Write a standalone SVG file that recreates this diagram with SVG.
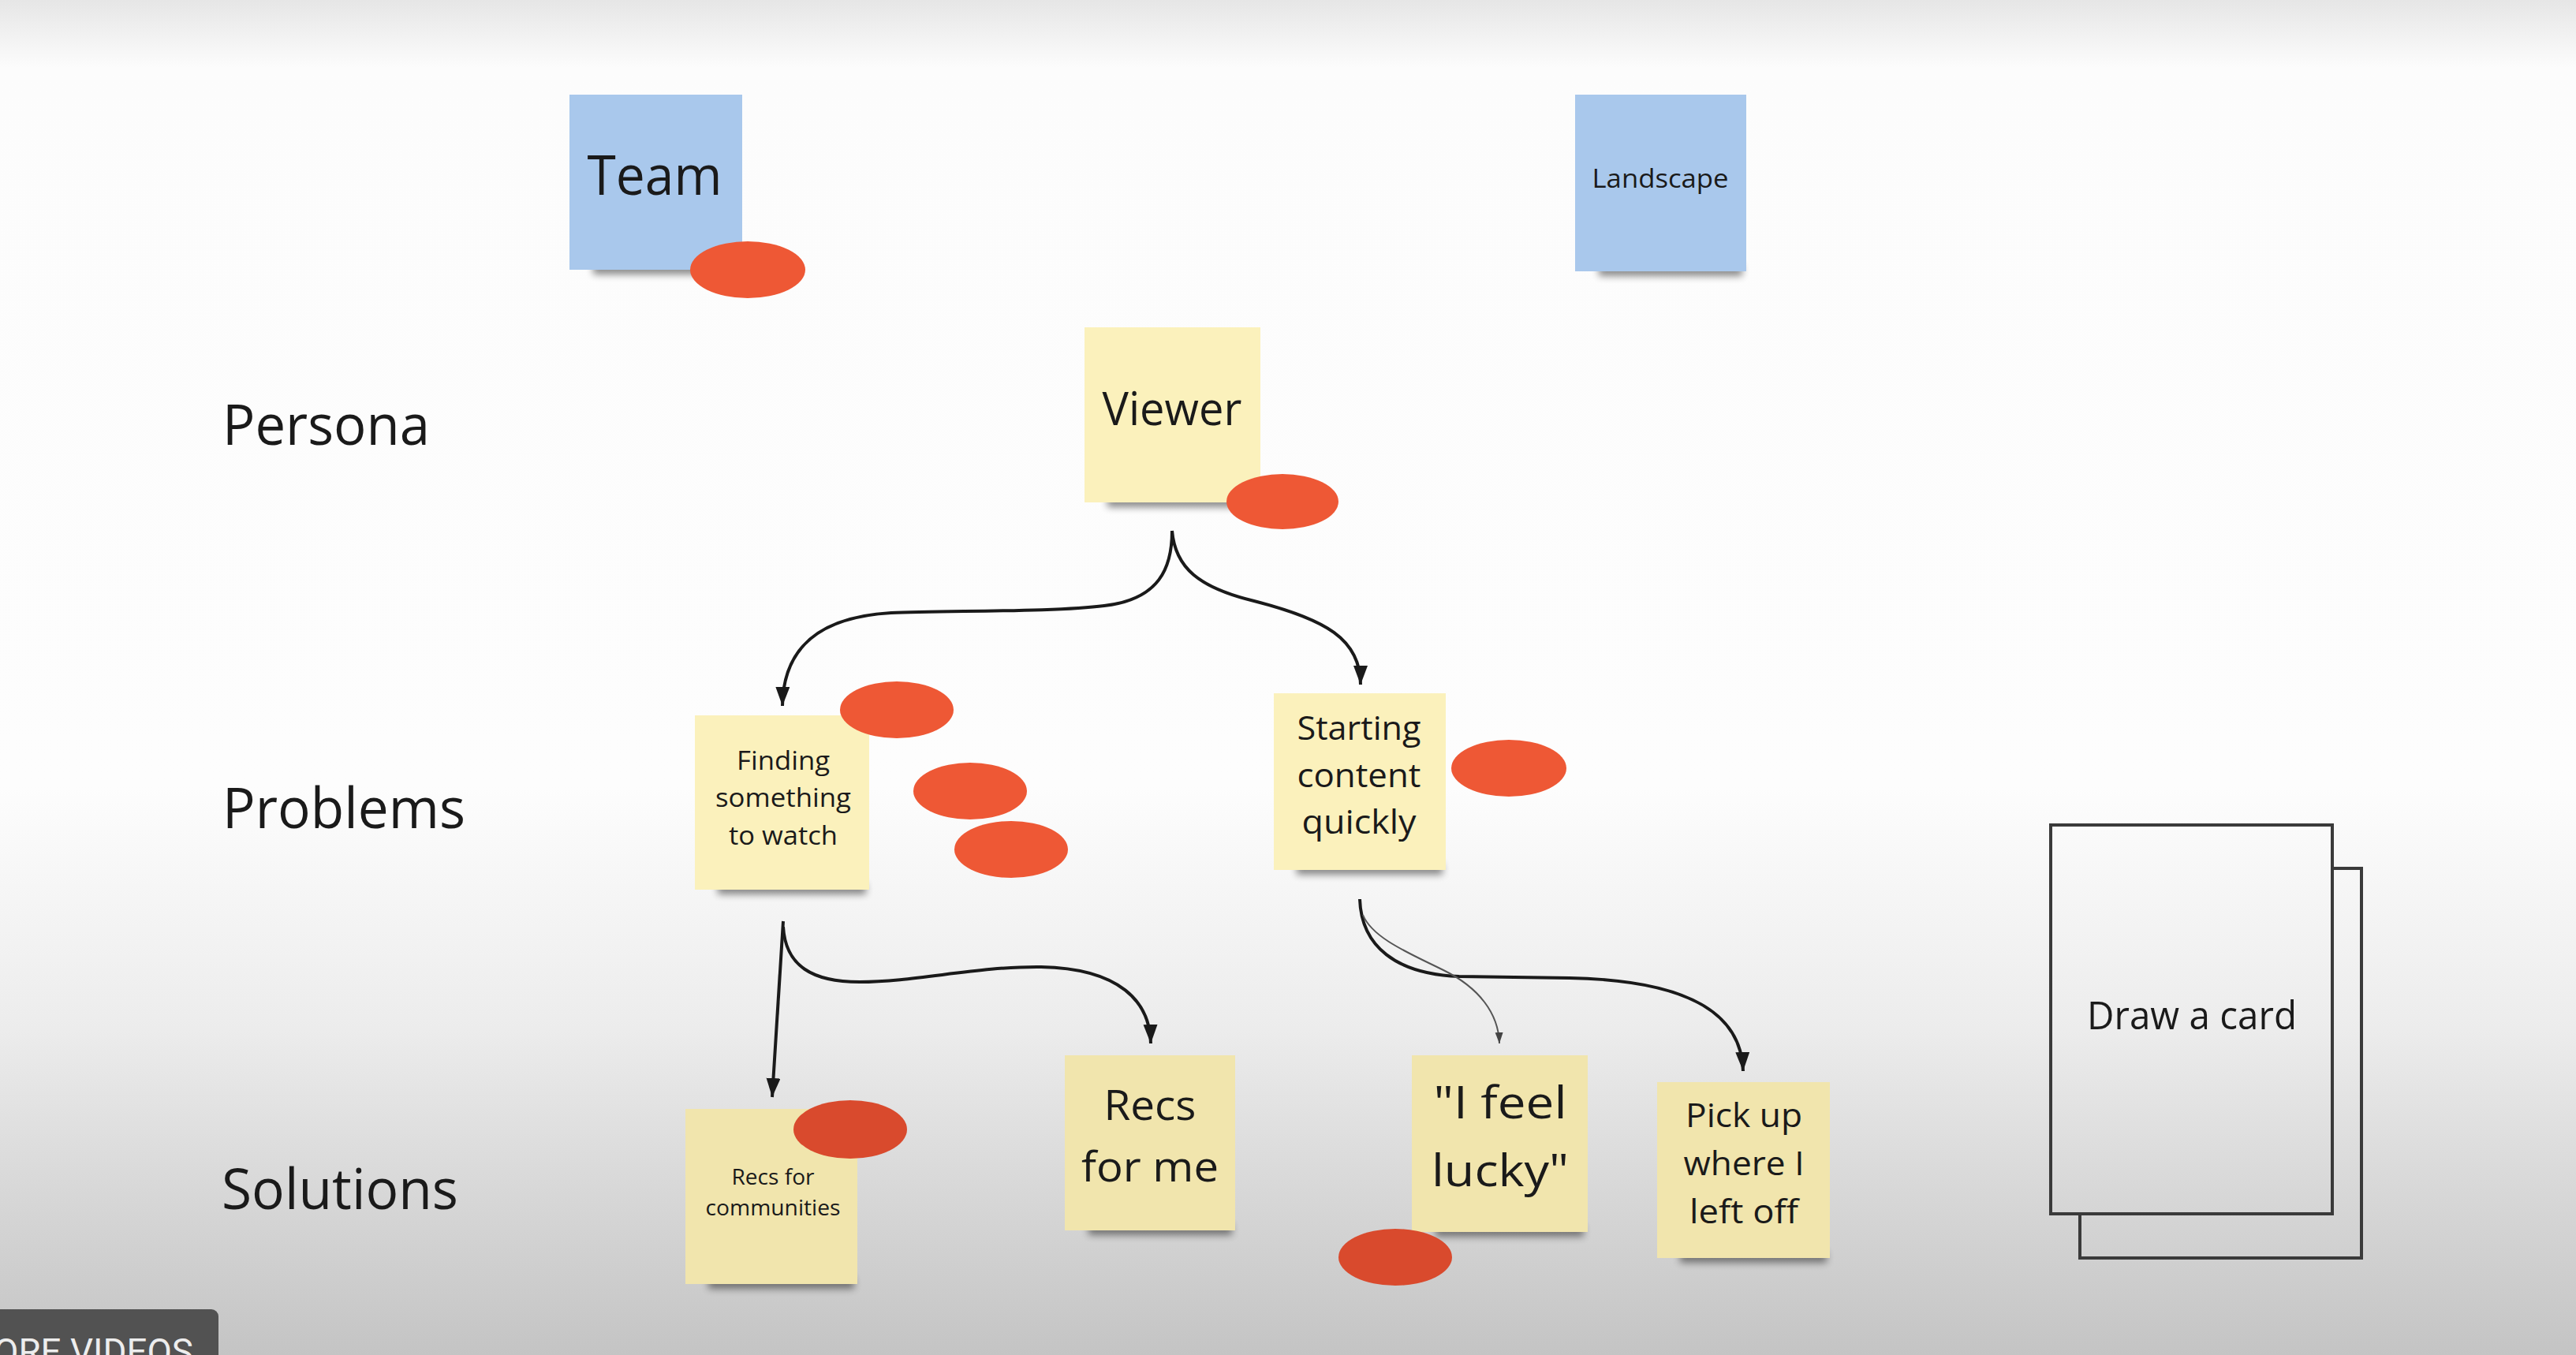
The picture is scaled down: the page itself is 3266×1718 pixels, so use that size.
<svg xmlns="http://www.w3.org/2000/svg" width="3266" height="1718" viewBox="0 0 3266 1718">
<defs>
<linearGradient id="bg" gradientUnits="userSpaceOnUse" x1="0" y1="0" x2="0" y2="1718">
<stop offset="0" stop-color="#e6e6e6"/>
<stop offset="0.05" stop-color="#fcfcfc"/>
<stop offset="0.58" stop-color="#fdfdfd"/>
<stop offset="0.76" stop-color="#ececec"/>
<stop offset="0.87" stop-color="#d9d9d9"/>
<stop offset="1" stop-color="#c4c4c4"/>
</linearGradient>
<filter id="blur" x="-20%" y="-100%" width="140%" height="300%">
<feGaussianBlur stdDeviation="5"/>
</filter>
<marker id="arrow" markerUnits="userSpaceOnUse" markerWidth="26" markerHeight="20" refX="24" refY="9" orient="auto">
<path d="M0,0 L24,9 L0,18 Z" fill="#1a1a1a"/>
</marker>
<marker id="arrowThin" markerUnits="userSpaceOnUse" markerWidth="16" markerHeight="12" refX="14" refY="5" orient="auto">
<path d="M0,0 L14,5 L0,10 Z" fill="#444"/>
</marker>
<style>
.txt{font-family:"Open Sans","Noto Sans","Liberation Sans",sans-serif;fill:#1a1a1a;}
.mid{text-anchor:middle;}
.blue{fill:#a9c8ec;}
.yel{fill:#fbf1bc;}
.yel2{fill:#f1e5ad;}
.shadow{fill:#000;opacity:0.45;filter:url(#blur);}
.dot{fill:#ee5835;}
.dot2{fill:#d94a2d;}
.conn{fill:none;stroke:#1a1a1a;stroke-width:4;marker-end:url(#arrow);}
.connThin{fill:none;stroke:#555;stroke-width:2;marker-end:url(#arrowThin);}
.card{fill:url(#bg);stroke:#3a3a3a;stroke-width:4;}
.lane{font-size:71px;}
</style>
</defs>

<g id="background">
<rect x="0" y="0" width="3266" height="1718" fill="url(#bg)"/>
</g>

<g id="connectors">
<path class="conn" d="M1486,673 C1486,720 1470,760 1400,768 C1340,776 1200,774 1130,777 C1040,782 993,820 992,895"/>
<path class="conn" d="M1486,673 C1490,720 1520,745 1590,762 C1680,785 1725,810 1725,868"/>
<path class="conn" d="M993,1168 L979,1391"/>
<path class="conn" d="M993,1175 C996,1225 1030,1245 1090,1245 C1160,1245 1240,1225 1320,1226 C1420,1228 1458,1270 1459,1323"/>
<path class="conn" d="M1724,1140 C1726,1200 1770,1235 1850,1238 L1990,1240 C2150,1243 2208,1290 2210,1358"/>
<path class="connThin" d="M1728,1160 C1740,1190 1790,1210 1830,1230 C1875,1252 1900,1285 1901,1323"/>
</g>

<g id="lane-persona"><text class="txt lane" x="282" y="564" textLength="263" lengthAdjust="spacingAndGlyphs">Persona</text></g>
<g id="lane-problems"><text class="txt lane" x="282" y="1050" textLength="308" lengthAdjust="spacingAndGlyphs">Problems</text></g>
<g id="lane-solutions"><text class="txt lane" x="281" y="1533" textLength="300" lengthAdjust="spacingAndGlyphs">Solutions</text></g>

<g id="team">
<rect class="shadow" x="752" y="334" width="184" height="14"/>
<rect class="blue" x="722" y="120" width="219" height="222"/>
<text class="txt mid" x="830" y="247" font-size="70" textLength="171" lengthAdjust="spacingAndGlyphs">Team</text>
<ellipse class="dot" cx="948" cy="342" rx="73" ry="36"/>
</g>

<g id="landscape">
<rect class="shadow" x="2027" y="336" width="182" height="14"/>
<rect class="blue" x="1997" y="120" width="217" height="224"/>
<text class="txt mid" x="2105" y="238" font-size="32" textLength="173" lengthAdjust="spacingAndGlyphs">Landscape</text>
</g>

<g id="viewer">
<rect class="shadow" x="1404" y="629" width="190" height="14"/>
<rect class="yel" x="1375" y="415" width="223" height="222"/>
<text class="txt mid" x="1486" y="539" font-size="58" textLength="177" lengthAdjust="spacingAndGlyphs">Viewer</text>
<ellipse class="dot" cx="1626" cy="636" rx="71" ry="35"/>
</g>

<g id="finding">
<rect class="shadow" x="910" y="1120" width="188" height="14"/>
<rect class="yel" x="881" y="907" width="221" height="221"/>
<text class="txt mid" x="993" y="976" font-size="32" textLength="118" lengthAdjust="spacingAndGlyphs">Finding</text>
<text class="txt mid" x="993" y="1023" font-size="32" textLength="172" lengthAdjust="spacingAndGlyphs">something</text>
<text class="txt mid" x="993" y="1071" font-size="32" textLength="138" lengthAdjust="spacingAndGlyphs">to watch</text>
<ellipse class="dot" cx="1137" cy="900" rx="72" ry="36"/>
<ellipse class="dot" cx="1230" cy="1003" rx="72" ry="36"/>
<ellipse class="dot" cx="1282" cy="1077" rx="72" ry="36"/>
</g>

<g id="starting">
<rect class="shadow" x="1644" y="1095" width="185" height="14"/>
<rect class="yel" x="1615" y="879" width="218" height="224"/>
<text class="txt mid" x="1723" y="938" font-size="42" textLength="157" lengthAdjust="spacingAndGlyphs">Starting</text>
<text class="txt mid" x="1723" y="998" font-size="42" textLength="157" lengthAdjust="spacingAndGlyphs">content</text>
<text class="txt mid" x="1723" y="1057" font-size="42" textLength="145" lengthAdjust="spacingAndGlyphs">quickly</text>
<ellipse class="dot" cx="1913" cy="974" rx="73" ry="36"/>
</g>

<g id="recs-communities">
<rect class="shadow" x="898" y="1620" width="185" height="14"/>
<rect class="yel2" x="869" y="1406" width="218" height="222"/>
<text class="txt mid" x="980" y="1502" font-size="27" textLength="105" lengthAdjust="spacingAndGlyphs">Recs for</text>
<text class="txt mid" x="980" y="1541" font-size="27" textLength="171" lengthAdjust="spacingAndGlyphs">communities</text>
<ellipse class="dot2" cx="1078" cy="1432" rx="72" ry="37"/>
</g>

<g id="recs-for-me">
<rect class="shadow" x="1380" y="1552" width="182" height="14"/>
<rect class="yel2" x="1350" y="1338" width="216" height="222"/>
<text class="txt mid" x="1458" y="1420" font-size="53" textLength="117" lengthAdjust="spacingAndGlyphs">Recs</text>
<text class="txt mid" x="1458" y="1498" font-size="53" textLength="174" lengthAdjust="spacingAndGlyphs">for me</text>
</g>

<g id="feel-lucky">
<rect class="shadow" x="1820" y="1554" width="188" height="14"/>
<rect class="yel2" x="1790" y="1338" width="223" height="224"/>
<text class="txt mid" x="1902" y="1418" font-size="56" textLength="169" lengthAdjust="spacingAndGlyphs">"I feel</text>
<text class="txt mid" x="1902" y="1504" font-size="56" textLength="174" lengthAdjust="spacingAndGlyphs">lucky"</text>
<ellipse class="dot2" cx="1769" cy="1594" rx="72" ry="36"/>
</g>

<g id="pick-up">
<rect class="shadow" x="2130" y="1587" width="186" height="14"/>
<rect class="yel2" x="2101" y="1372" width="219" height="223"/>
<text class="txt mid" x="2211" y="1429" font-size="42" textLength="148" lengthAdjust="spacingAndGlyphs">Pick up</text>
<text class="txt mid" x="2211" y="1490" font-size="42" textLength="153" lengthAdjust="spacingAndGlyphs">where I</text>
<text class="txt mid" x="2211" y="1551" font-size="42" textLength="138" lengthAdjust="spacingAndGlyphs">left off</text>
</g>

<g id="draw-card">
<rect class="card" x="2637" y="1101" width="357" height="494"/>
<rect class="card" x="2600" y="1046" width="357" height="493"/>
<text class="txt mid" x="2779" y="1305" font-size="49" textLength="266" lengthAdjust="spacingAndGlyphs">Draw a card</text>
</g>

<g id="more-videos">
<rect x="-12" y="1660" width="289" height="80" rx="9" fill="#525252"/>
<text x="-8" y="1730" font-family="Roboto,'Liberation Sans',sans-serif" font-size="46" fill="#ededed" textLength="253" lengthAdjust="spacingAndGlyphs">ORE VIDEOS</text>
</g>
</svg>
